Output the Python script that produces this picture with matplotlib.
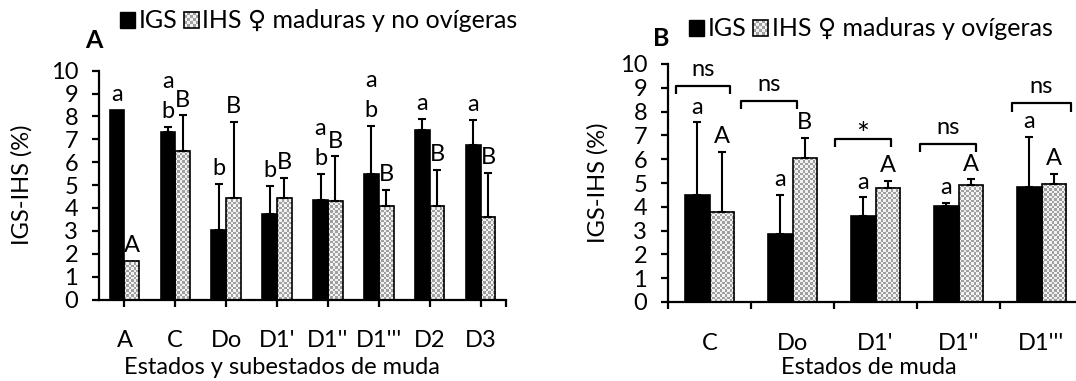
import numpy as np
import matplotlib
matplotlib.use("Agg")
import matplotlib.pyplot as plt
from matplotlib.colors import ListedColormap
from matplotlib.patches import Rectangle
from matplotlib.legend_handler import HandlerBase

plt.rcParams['font.family'] = ['Lato', 'DejaVu Sans']

# ---------------- data ----------------
cats_A = ['A', 'C', 'Do', "D1'", "D1''", "D1'''", 'D2', 'D3']
igs_A = [8.3, 7.3, 3.05, 3.75, 4.35, 5.5, 7.4, 6.75]
igs_A_err = [np.nan, 0.25, 2.0, 1.2, 1.15, 2.1, 0.5, 1.1]
ihs_A = [1.7, 6.5, 4.45, 4.45, 4.3, 4.1, 4.1, 3.6]
ihs_A_err = [np.nan, 1.55, 3.3, 0.85, 1.95, 0.7, 1.55, 1.95]
igs_A_letters = ['a', 'ba', 'b', 'b', 'ba', 'ba', 'a', 'a']   # bottom -> top
ihs_A_letters = ['A', 'B', 'B', 'B', 'B', 'B', 'B', 'B']

cats_B = ['C', 'Do', "D1'", "D1''", "D1'''"]
igs_B = [4.5, 2.85, 3.6, 4.05, 4.85]
igs_B_err = [3.05, 1.65, 0.8, 0.1, 2.1]
ihs_B = [3.8, 6.05, 4.8, 4.9, 4.97]
ihs_B_err = [2.5, 0.85, 0.3, 0.25, 0.4]
igs_B_letters = ['a', 'a', 'a', 'a', 'a']
ihs_B_letters = ['A', 'B', 'A', 'A', 'A']
bracket_B_y = [9.07, 8.45, 6.85, 6.65, 8.35]
bracket_B_left = [-0.40, -0.62, -0.49, -0.46, -0.36]
bracket_B_right = [0.25, 0.05, 0.19, 0.21, 0.36]
bracket_B_text = ['ns', 'ns', '*', 'ns', 'ns']

legend_A = ['IGS', 'IHS \u2640 maduras y no ovígeras']
legend_B = ['IGS', 'IHS \u2640 maduras y ovígeras']
xlabel_A = 'Estados y subestados de muda'
xlabel_B = 'Estados de muda'
ylabel = 'IGS-IHS (%)'
yticks = list(range(0, 11))

# ---------------- style ----------------
W, H = 1076, 381
FS = 17
BW = 0.29
CELL = 2.5
checker_cmap = ListedColormap(['#f2f2f2', '#a0a0a0'])

fig = plt.figure(figsize=(W / 100, H / 100), dpi=100)


def px_axes(left, right, y0, y10):
    return fig.add_axes([left / W, 1 - y0 / H, (right - left) / W, (y0 - y10) / H])


def checker_fill(ax, patch):
    x0, y0 = patch.get_x(), patch.get_y()
    w, h = patch.get_width(), patch.get_height()
    p0 = ax.transData.transform((x0, y0))
    p1 = ax.transData.transform((x0 + w, y0 + h))
    nx = max(1, int(round(abs(p1[0] - p0[0]) / CELL)))
    ny = max(1, int(round(abs(p1[1] - p0[1]) / CELL)))
    arr = np.add.outer(np.arange(ny), np.arange(nx)) % 2
    ax.imshow(arr, extent=(x0, x0 + w, y0, y0 + h), cmap=checker_cmap,
              interpolation='nearest', aspect='auto', zorder=2, vmin=0, vmax=1)


class CheckerHandler(HandlerBase):
    def create_artists(self, legend, orig_handle, xdescent, ydescent,
                       width, height, fontsize, trans):
        arts = []
        n = 5
        cw, ch = width / n, height / n
        for i in range(n):
            for j in range(n):
                col = '#a0a0a0' if (i + j) % 2 else '#f2f2f2'
                arts.append(Rectangle((-xdescent + i * cw, -ydescent + j * ch), cw, ch,
                                      facecolor=col, edgecolor='none', transform=trans))
        arts.append(Rectangle((-xdescent, -ydescent), width, height, facecolor='none',
                              edgecolor='black', lw=1.2, transform=trans))
        return arts


def draw_panel(ax, cats, igs, igs_err, ihs, ihs_err, igs_letters, ihs_letters, between):
    n = len(cats)
    x = np.arange(n)
    ax.set_xlim(-0.5, n - 0.5)
    ax.set_ylim(0, 10)
    ax.bar(x - BW / 2, igs, BW, color='black', edgecolor='black', lw=1.2, zorder=3)
    b2 = ax.bar(x + BW / 2, ihs, BW, facecolor='none', edgecolor='black', lw=1.2, zorder=3)
    for p in b2.patches:
        checker_fill(ax, p)
    ax.set_xlim(-0.5, n - 0.5)
    ax.set_ylim(0, 10)
    for xs, vals, errs in ((x - BW / 2, igs, igs_err), (x + BW / 2, ihs, ihs_err)):
        e = np.array(errs, dtype=float)
        m = ~np.isnan(e)
        ax.errorbar(xs[m], np.array(vals)[m], yerr=[np.zeros(m.sum()), e[m]], fmt='none',
                    ecolor='black', elinewidth=1.5, capsize=2.8, capthick=1.5, zorder=4)
    # letters
    for xs, vals, errs, labs in ((x - BW / 2, igs, igs_err, igs_letters),
                                 (x + BW / 2, ihs, ihs_err, ihs_letters)):
        for xi, v, e, lab in zip(xs, vals, errs, labs):
            top = v + (0 if np.isnan(e) else e)
            for k, ch in enumerate(lab):
                ax.annotate(ch, (xi, top), xytext=(0, 11 + k * 21.5), textcoords='offset points',
                            ha='center', va='center', fontsize=FS, zorder=5)
    # axes style
    for s in ('top', 'right'):
        ax.spines[s].set_visible(False)
    for s in ('left', 'bottom'):
        ax.spines[s].set_linewidth(1.6)
    ax.set_yticks(yticks)
    ax.tick_params(axis='y', direction='out', length=5, width=1.6, labelsize=FS, pad=10)
    if between:
        ax.set_xticks(np.arange(-0.5, n, 1.0))
        ax.set_xticklabels([])
        ax.set_xticks(x, minor=True)
        ax.set_xticklabels(cats, minor=True)
        ax.tick_params(axis='x', which='major', direction='out', length=5, width=1.6)
        ax.tick_params(axis='x', which='minor', length=0, labelsize=FS, pad=22)
    else:
        ax.set_xticks(x)
        ax.set_xticklabels(cats)
        ax.set_xticks([n - 0.5], minor=True)
        ax.tick_params(axis='x', which='major', direction='out', length=5, width=1.6,
                       labelsize=FS, pad=17)
        ax.tick_params(axis='x', which='minor', direction='out', length=5, width=1.6)
    return x


# ---------------- panel A ----------------
axA = px_axes(99, 506, 299.5, 70.7)
draw_panel(axA, cats_A, igs_A, igs_A_err, ihs_A, ihs_A_err, igs_A_letters, ihs_A_letters, False)
axA.set_ylabel(ylabel, fontsize=FS)
axA.yaxis.set_label_coords((33 - 99) / 407, 0.5)
axA.set_xlabel(xlabel_A, fontsize=FS)
axA.xaxis.set_label_coords((282 - 99) / 407, (299.5 - 357) / 228.8)

# ---------------- panel B ----------------
axB = px_axes(668, 1083, 302, 64)
xB = draw_panel(axB, cats_B, igs_B, igs_B_err, ihs_B, ihs_B_err, igs_B_letters, ihs_B_letters, True)
axB.set_ylabel(ylabel, fontsize=FS)
axB.yaxis.set_label_coords((609 - 668) / 415, 0.5)
axB.set_xlabel(xlabel_B, fontsize=FS)
axB.xaxis.set_label_coords((869 - 668) / 415, (302 - 357) / 238)
for xi, yb, l, r, t in zip(xB, bracket_B_y, bracket_B_left, bracket_B_right, bracket_B_text):
    axB.plot([xi + l, xi + l, xi + r, xi + r], [yb - 0.35, yb, yb, yb - 0.35],
             color='black', lw=1.6, solid_capstyle='butt', clip_on=False, zorder=5)
    off, fs = (3, FS + 5) if t == '*' else (12, FS)
    axB.annotate(t, ((2 * xi + l + r) / 2, yb), xytext=(0, off), textcoords='offset points',
                 ha='center', va='center', fontsize=fs, zorder=5)

# ---------------- legends & panel letters ----------------
black = Rectangle((0, 0), 1, 1, facecolor='black', edgecolor='black')
chk = Rectangle((0, 0), 1, 1)
for lab, (lx, ly), (px_, py_), leg in (('A', (94, 41), (120, 21), legend_A),
                                        ('B', (661, 38), (689, 29), legend_B)):
    fig.text(lx / W, 1 - ly / H, lab, fontsize=FS + 1, fontweight='bold', ha='center', va='center')
    fig.legend([black, chk], leg, loc='center left', bbox_to_anchor=(px_ / W, 1 - py_ / H),
               bbox_transform=fig.transFigure, ncol=2, frameon=False, fontsize=FS + 1,
               handlelength=0.6, handleheight=0.6, handletextpad=0.15, columnspacing=0.25,
               borderpad=0, borderaxespad=0, handler_map={chk: CheckerHandler()})

fig.savefig('out.png', dpi=100)
